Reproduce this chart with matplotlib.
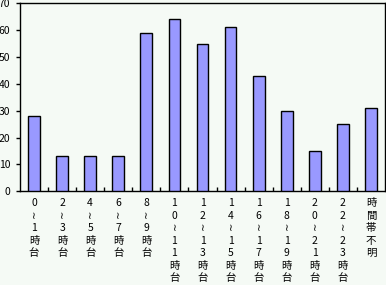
import matplotlib
matplotlib.use("Agg")
import matplotlib.pyplot as plt
import numpy as np

plt.rcParams['font.family'] = ['Noto Sans CJK JP', 'DejaVu Sans']

# 時間帯ごとの件数
categories = ["0≀1時台", "2≀3時台", "4≀5時台", "6≀7時台", "8≀9時台",
              "10≀11時台", "12≀13時台", "14≀15時台", "16≀17時台",
              "18≀19時台", "20≀21時台", "22≀23時台", "時間帯不明"]
values = [28, 13, 13, 13, 59, 64, 55, 61, 43, 30, 15, 25, 31]
yticks = [0, 10, 20, 30, 40, 50, 60, 70]

bg = '#f5faf5'
W, H = 386, 285
fig = plt.figure(figsize=(W / 100, H / 100), dpi=100, facecolor=bg)
ax = fig.add_axes([20 / W, 1 - 191.3 / H, 365 / W, 188 / H], facecolor=bg)

x = np.arange(len(values))
ax.bar(x, values, width=0.42, color='#9999ff', edgecolor='black', linewidth=1.0, zorder=3)

ax.set_xlim(-0.5, len(values) - 0.5)
ax.set_ylim(0, 70)
ax.set_yticks(yticks)
ax.tick_params(axis='y', direction='out', length=3, width=1, pad=4, labelsize=7.5)

# 縦書きラベル（1文字ずつ改行）
ax.set_xticks(x)
ax.set_xticklabels(["\n".join(list(c)) for c in categories], va='top', linespacing=1.31)
ax.tick_params(axis='x', length=0, pad=5, labelsize=7.5)
ax.set_xticks(np.arange(0.5, len(values) - 1, 1.0), minor=True)
ax.tick_params(axis='x', which='minor', direction='in', length=3, width=1)

for s in ax.spines.values():
    s.set_linewidth(1.0)
    s.set_color('black')

fig.savefig("out.png", dpi=100, facecolor=bg)
